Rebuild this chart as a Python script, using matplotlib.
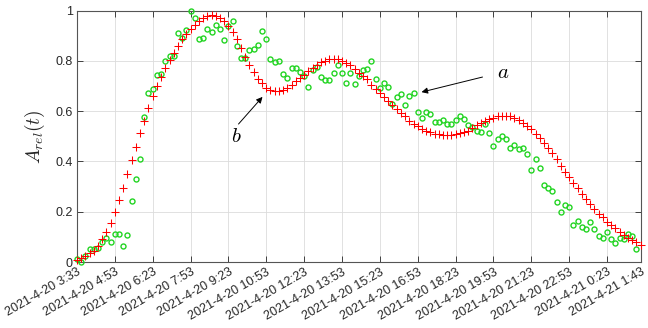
# 相対振幅の時間変化 (a: 実測, b: モデル)
import numpy as np
import matplotlib
matplotlib.use('Agg')
import matplotlib.pyplot as plt

plt.rcParams['font.family'] = ['Liberation Sans', 'DejaVu Sans']
plt.rcParams['mathtext.fontset'] = 'cm'

# モデル (赤 +), 10分ごと
model_vals = [
    0.008, 0.014, 0.025, 0.034, 0.045, 0.063, 0.093, 0.120, 0.155, 0.198,
    0.245, 0.295, 0.351, 0.405, 0.458, 0.513, 0.563, 0.612, 0.659, 0.700,
    0.737, 0.772, 0.805, 0.832, 0.859, 0.886, 0.906, 0.927, 0.945, 0.960,
    0.972, 0.977, 0.981, 0.977, 0.969, 0.959, 0.940, 0.916, 0.887, 0.852,
    0.816, 0.785, 0.756, 0.729, 0.711, 0.693, 0.683, 0.679, 0.679, 0.684,
    0.693, 0.705, 0.719, 0.733, 0.745, 0.760, 0.772, 0.783, 0.796, 0.801,
    0.807, 0.809, 0.807, 0.801, 0.793, 0.783, 0.769, 0.753, 0.739, 0.727,
    0.705, 0.689, 0.673, 0.657, 0.640, 0.623, 0.608, 0.592, 0.579, 0.563,
    0.549, 0.540, 0.529, 0.521, 0.516, 0.511, 0.508, 0.505, 0.505, 0.507,
    0.511, 0.515, 0.519, 0.523, 0.532, 0.544, 0.553, 0.561, 0.568, 0.574,
    0.579, 0.581, 0.581, 0.579, 0.575, 0.566, 0.555, 0.543, 0.529, 0.511,
    0.493, 0.473, 0.453, 0.433, 0.409, 0.382, 0.360, 0.339, 0.316, 0.294,
    0.270, 0.251, 0.231, 0.212, 0.193, 0.178, 0.161, 0.148, 0.134, 0.121,
    0.108, 0.097, 0.087, 0.080, 0.069,
]

# 実測 (緑 o)
obs_vals = [
    0.013, 0.000, 0.025, 0.052, 0.052, 0.055, 0.079, 0.095, 0.081, 0.112,
    0.111, 0.064, 0.107, 0.243, 0.331, 0.410, 0.577, 0.672, 0.688, 0.745,
    0.750, 0.801, 0.820, 0.820, 0.910, 0.891, 0.923, 1.000, 0.969, 0.888,
    0.892, 0.927, 0.916, 0.945, 0.927, 0.884, 0.939, 0.957, 0.860, 0.812,
    0.812, 0.843, 0.848, 0.862, 0.920, 0.889, 0.808, 0.796, 0.801, 0.747,
    0.732, 0.772, 0.772, 0.756, 0.741, 0.697, 0.765, 0.776, 0.738, 0.725,
    0.726, 0.754, 0.784, 0.754, 0.713, 0.754, 0.709, 0.739, 0.763, 0.767,
    0.800, 0.729, 0.694, 0.713, 0.698, 0.630, 0.656, 0.670, 0.623, 0.659,
    0.671, 0.595, 0.574, 0.596, 0.587, 0.557, 0.556, 0.565, 0.550, 0.549,
    0.566, 0.580, 0.570, 0.546, 0.537, 0.523, 0.519, 0.550, 0.513, 0.461,
    0.488, 0.503, 0.490, 0.453, 0.466, 0.450, 0.453, 0.430, 0.365, 0.410,
    0.376, 0.307, 0.296, 0.281, 0.238, 0.198, 0.226, 0.217, 0.146, 0.163,
    0.141, 0.133, 0.158, 0.130, 0.104, 0.095, 0.120, 0.090, 0.074, 0.097,
    0.090, 0.111, 0.105, 0.052,
]

tick_idx = [0, 9, 18, 27, 36, 45, 54, 63, 72, 81, 90, 99, 108, 117, 126, 134]
tick_labels = [
    '2021-4-20 3:33', '2021-4-20 4:53', '2021-4-20 6:23', '2021-4-20 7:53',
    '2021-4-20 9:23', '2021-4-20 10:53', '2021-4-20 12:23', '2021-4-20 13:53',
    '2021-4-20 15:23', '2021-4-20 16:53', '2021-4-20 18:23', '2021-4-20 19:53',
    '2021-4-20 21:23', '2021-4-20 22:53', '2021-4-21 0:23', '2021-4-21 1:43',
]

x_model = np.arange(len(model_vals))
x_obs = np.arange(len(obs_vals))

fig = plt.figure(figsize=(6.48, 3.28), dpi=100)
ax = fig.add_axes([0.1188, 0.2012, 0.8699, 0.7662])

ax.plot(x_obs, obs_vals, 'o', ls='none', mfc='none', mec='#22d422', ms=3.6, mew=1.0,
        clip_on=False, zorder=3)
ax.plot(x_model, model_vals, '+', ls='none', color='#ff0000', ms=5.2, mew=0.75,
        clip_on=False, zorder=3)

ax.set_xlim(0, 134)
ax.set_ylim(0, 1)
ax.set_xticks(tick_idx)
ax.set_xticklabels(tick_labels, rotation=30, ha='right', rotation_mode='anchor')
ax.set_yticks([0, 0.2, 0.4, 0.6, 0.8, 1])
ax.set_yticklabels(['0', '0.2', '0.4', '0.6', '0.8', '1'])
ax.tick_params(direction='in', top=True, right=True, length=4, width=0.6,
               labelsize=9, colors='#262626', pad=3)
ax.grid(True, color='#dcdcdc', lw=0.6)
ax.set_axisbelow(True)
for s in ax.spines.values():
    s.set_color('#555555')
    s.set_linewidth(0.8)

ax.set_ylabel(r'$A_{rel}(t)$', fontsize=14, color='#262626', labelpad=6)

# 注釈
ax.annotate('', xy=(81.9, 0.676), xytext=(96.4, 0.736),
            arrowprops=dict(arrowstyle='-|>', color='black', lw=0.7,
                            mutation_scale=9, shrinkA=0, shrinkB=0))
ax.text(101.2, 0.756, r'$a$', fontsize=15, ha='center', va='center')
ax.annotate('', xy=(44.1, 0.657), xytext=(38.4, 0.549),
            arrowprops=dict(arrowstyle='-|>', color='black', lw=0.7,
                            mutation_scale=9, shrinkA=0, shrinkB=0))
ax.text(37.9, 0.498, r'$b$', fontsize=15, ha='center', va='center')

fig.savefig('out.png', dpi=100)
